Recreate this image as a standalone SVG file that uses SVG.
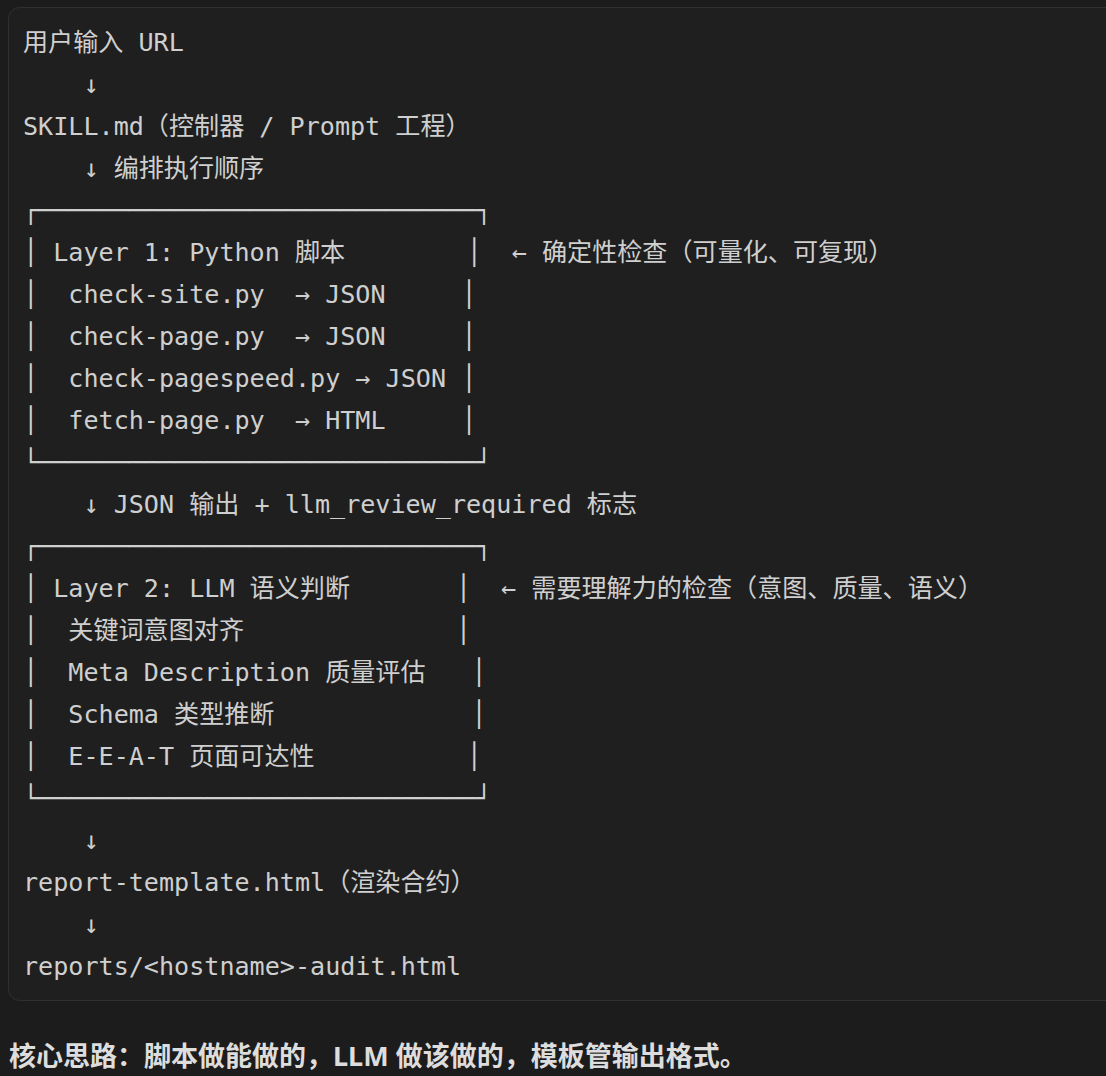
<svg xmlns="http://www.w3.org/2000/svg" width="1106" height="1076" viewBox="0 0 1106 1076">
<style>
.c{font-family:"DejaVu Sans Mono","Noto Sans CJK SC",monospace;font-size:25.1px;fill:#cfcfcf;white-space:pre}
.n{font-family:"Noto Sans","Noto Sans CJK SC",sans-serif;font-size:27px;font-weight:bold;fill:#dddddd}
</style>
<rect width="1106" height="1076" fill="#1c1c1c"/>
<rect x="8.5" y="7.5" width="1120" height="993" rx="11" fill="#1f1f1f" stroke="#303030"/>
<g id="n-input"><text class="c" xml:space="preserve" x="23" y="51">用户输入 URL</text></g>
<g id="n-skill"><text class="c" xml:space="preserve" x="23" y="135">SKILL.md（控制器 / Prompt 工程）</text></g>
<g id="n-layer1">
<text class="c" xml:space="preserve" x="23" y="219">┌─────────────────────────────┐</text>
<text class="c" xml:space="preserve" x="23" y="261">│ Layer 1: Python 脚本</text>
<text class="c" xml:space="preserve" x="466.45" y="261">│  ← 确定性检查（可量化、可复现）</text>
<text class="c" xml:space="preserve" x="23" y="303">│  check-site.py  → JSON</text>
<text class="c" xml:space="preserve" x="461.15" y="303">│</text>
<text class="c" xml:space="preserve" x="23" y="345">│  check-page.py  → JSON</text>
<text class="c" xml:space="preserve" x="461.15" y="345">│</text>
<text class="c" xml:space="preserve" x="23" y="387">│  check-pagespeed.py → JSON</text>
<text class="c" xml:space="preserve" x="461.15" y="387">│</text>
<text class="c" xml:space="preserve" x="23" y="429">│  fetch-page.py  → HTML</text>
<text class="c" xml:space="preserve" x="461.15" y="429">│</text>
<text class="c" xml:space="preserve" x="23" y="471">└─────────────────────────────┘</text>
</g>
<g id="n-layer2">
<text class="c" xml:space="preserve" x="23" y="555">┌─────────────────────────────┐</text>
<text class="c" xml:space="preserve" x="23" y="597">│ Layer 2: LLM 语义判断</text>
<text class="c" xml:space="preserve" x="455.75" y="597">│  ← 需要理解力的检查（意图、质量、语义）</text>
<text class="c" xml:space="preserve" x="23" y="639">│  关键词意图对齐</text>
<text class="c" xml:space="preserve" x="455.75" y="639">│</text>
<text class="c" xml:space="preserve" x="23" y="681">│  Meta Description 质量评估</text>
<text class="c" xml:space="preserve" x="471.15" y="681">│</text>
<text class="c" xml:space="preserve" x="23" y="723">│  Schema 类型推断</text>
<text class="c" xml:space="preserve" x="471.15" y="723">│</text>
<text class="c" xml:space="preserve" x="23" y="765">│  E-E-A-T 页面可达性</text>
<text class="c" xml:space="preserve" x="466.45" y="765">│</text>
<text class="c" xml:space="preserve" x="23" y="807">└─────────────────────────────┘</text>
</g>
<g id="n-template"><text class="c" xml:space="preserve" x="23" y="891">report-template.html（渲染合约）</text></g>
<g id="n-report"><text class="c" xml:space="preserve" x="23" y="975">reports/&lt;hostname&gt;-audit.html</text></g>
<g id="connectors">
<text class="c" xml:space="preserve" x="23" y="93">    ↓</text>
<text class="c" xml:space="preserve" x="23" y="177">    ↓ 编排执行顺序</text>
<text class="c" xml:space="preserve" x="23" y="513">    ↓ JSON 输出 + llm_review_required 标志</text>
<text class="c" xml:space="preserve" x="23" y="849">    ↓</text>
<text class="c" xml:space="preserve" x="23" y="933">    ↓</text>
</g>
<g id="n-note"><text class="n" x="9" y="1066">核心思路：脚本做能做的，LLM 做该做的，模板管输出格式。</text></g>
</svg>
